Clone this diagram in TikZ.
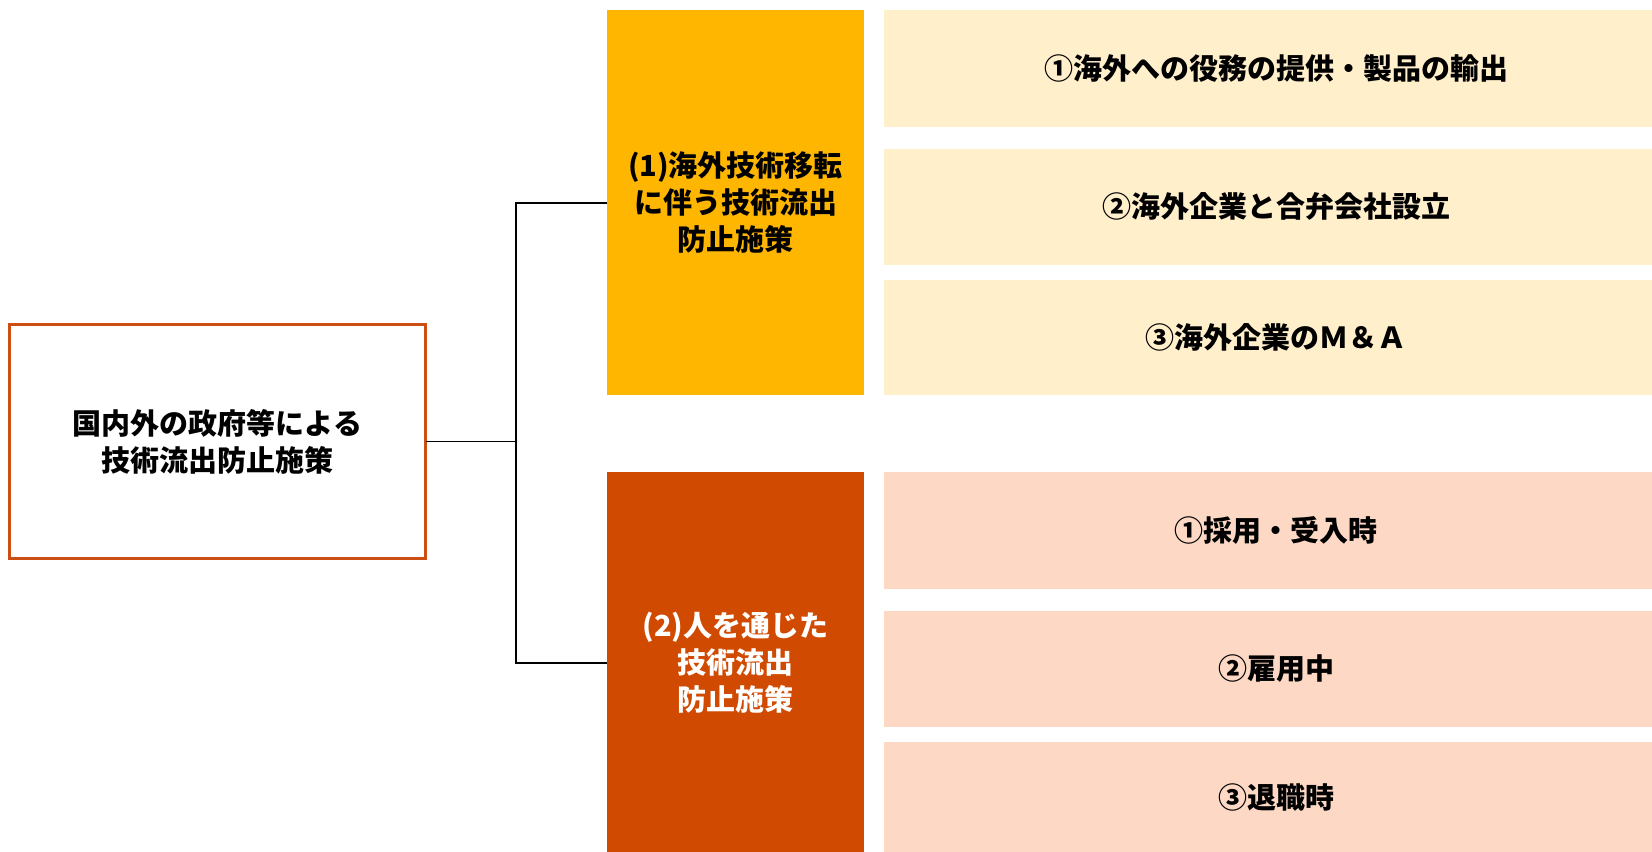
\documentclass[tikz,border=0pt]{standalone}
\usepackage{fontspec}
\setmainfont{Noto Sans CJK JP}
\definecolor{rootline}{HTML}{CC4E12}
\definecolor{gold}{HTML}{FFB600}
\definecolor{rust}{HTML}{D04A02}
\definecolor{paleyellow}{HTML}{FFEFCB}
\definecolor{palepeach}{HTML}{FDD9C5}
\begin{document}
\begin{tikzpicture}[x=0.75pt,y=-0.75pt,
  txt/.style={font=\fontsize{21.75pt}{27.75pt}\selectfont\bfseries, align=center, inner sep=0pt, outer sep=0pt},
  rootbox/.style={txt, draw=rootline, line width=1.6pt, fill=white, minimum width=416*0.75pt, minimum height=234*0.75pt},
  groupbox/.style={txt, minimum width=257*0.75pt},
  itembox/.style={txt, minimum width=784*0.75pt},
  conn/.style={draw=black, line width=1.4pt}
]
\useasboundingbox (0,0) rectangle (1652,852);
\fill[white] (0,0) rectangle (1652,852);

\node[rootbox] (root) at (217.5,441.5) {国内外の政府等による\\技術流出防止施策};

\node[groupbox, fill=gold, minimum height=384.6*0.75pt] (g1) at (735.5,202.8) {(1)海外技術移転\\に伴う技術流出\\防止施策};
\node[groupbox, fill=rust, text=white, minimum height=382*0.75pt] (g2) at (735.5,663) {(2)人を通じた\\技術流出\\防止施策};

\node[itembox, fill=paleyellow, minimum height=117*0.75pt] (a1) at (1276,69) {①海外への役務の提供・製品の輸出};
\node[itembox, fill=paleyellow, minimum height=116*0.75pt] (a2) at (1276,206.7) {②海外企業と合弁会社設立};
\node[itembox, fill=paleyellow, minimum height=115*0.75pt] (a3) at (1276,337.8) {③海外企業のＭ＆Ａ};

\node[itembox, fill=palepeach, minimum height=117*0.75pt] (b1) at (1276,530) {①採用・受入時};
\node[itembox, fill=palepeach, minimum height=116*0.75pt] (b2) at (1276,669) {②雇用中};
\node[itembox, fill=palepeach, minimum height=112*0.75pt] (b3) at (1276,797.5) {③退職時};

\coordinate (j) at (516.3,441.5);
\draw[conn] (root.east) -- (j);
\draw[conn] (g1.west) -| (j) |- (g2.west);
\end{tikzpicture}
\end{document}
